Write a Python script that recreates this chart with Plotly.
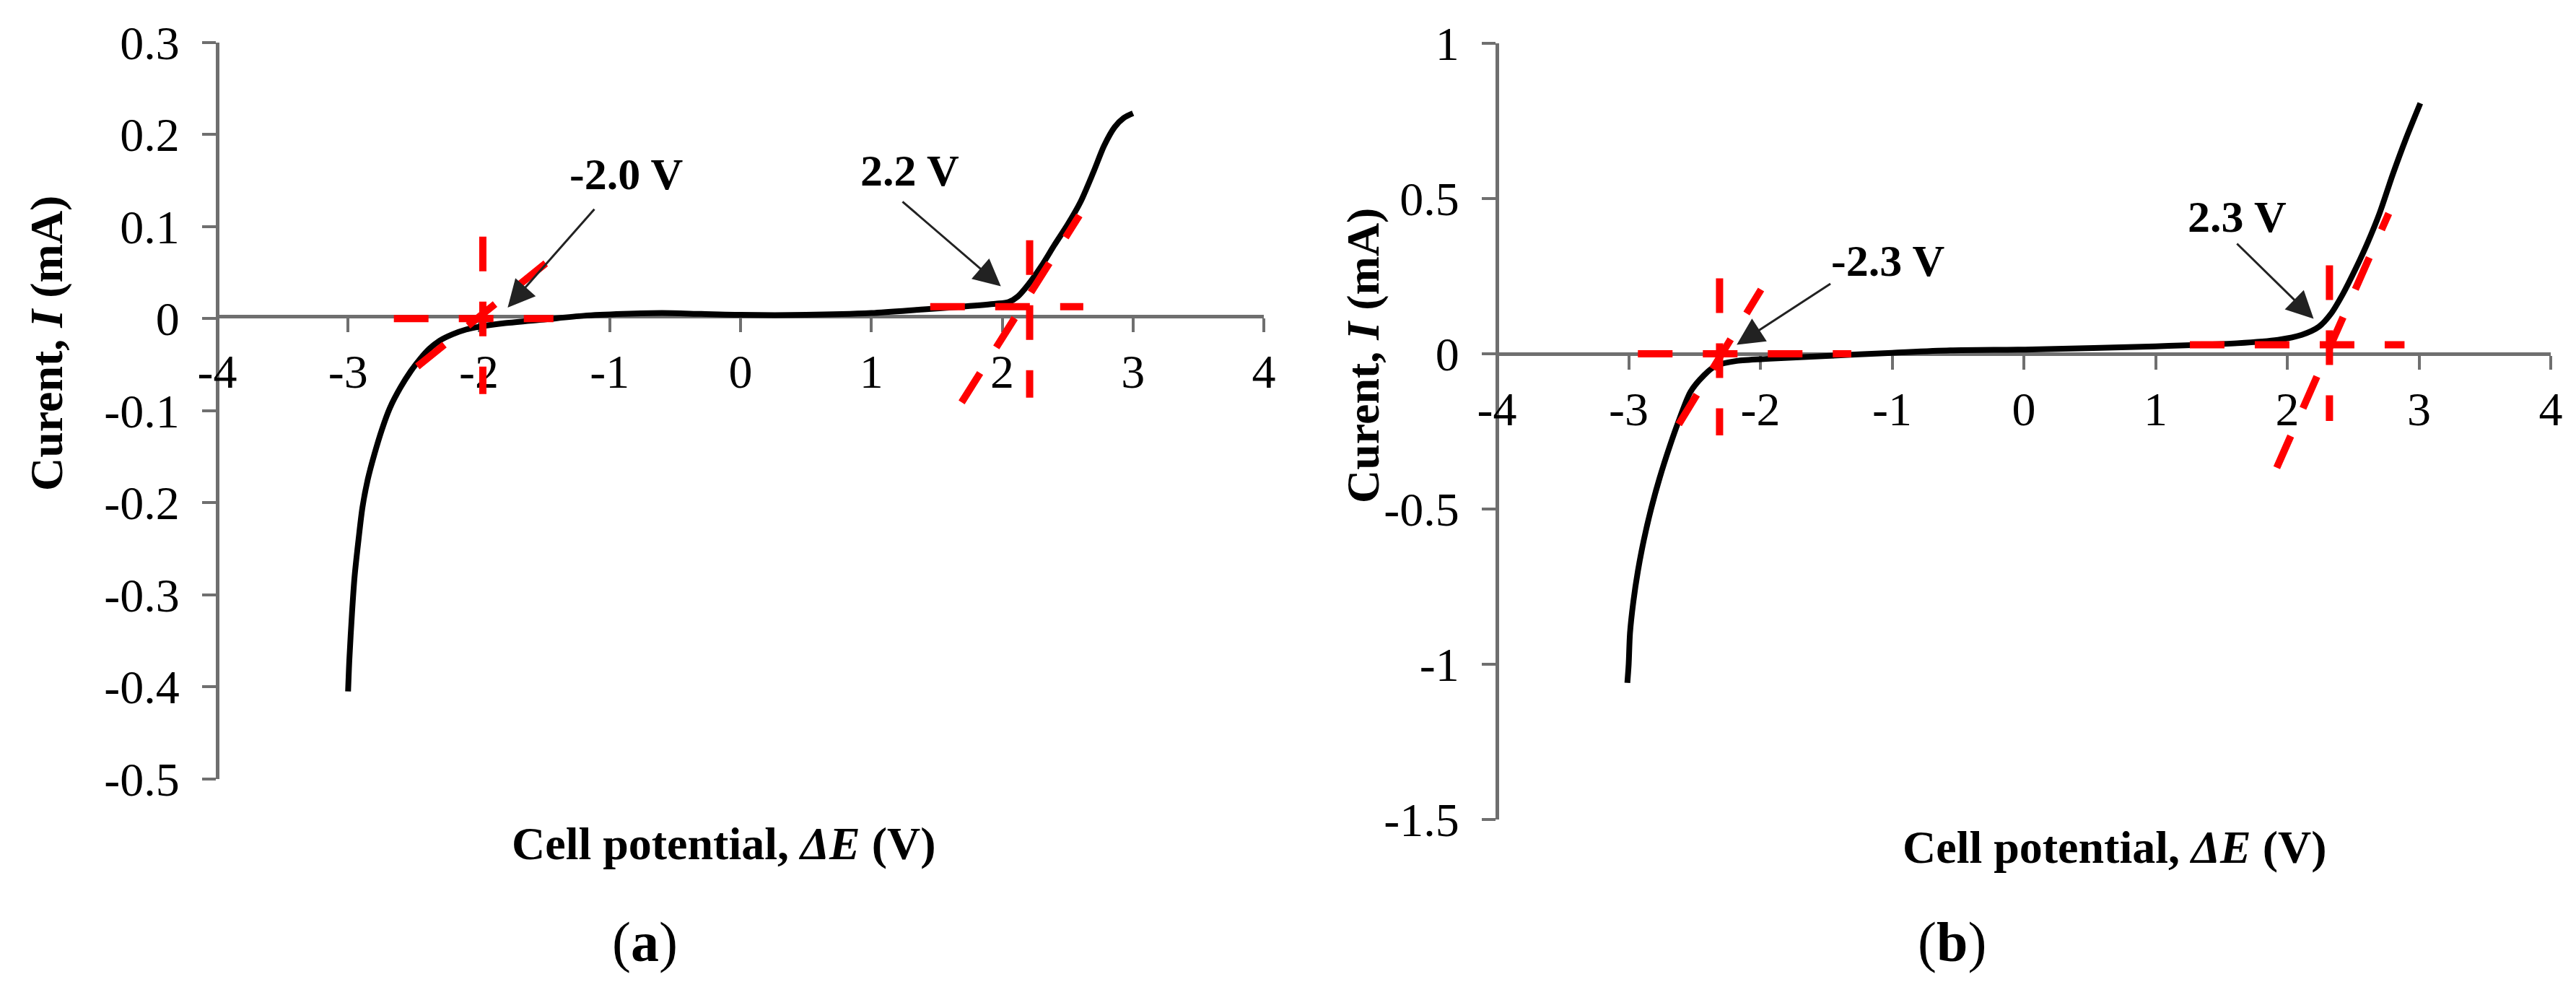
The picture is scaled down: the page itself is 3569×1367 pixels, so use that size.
import plotly.graph_objects as go

W, H = 3569, 1367
SERIF = "Liberation Serif, Times New Roman, serif"
AXIS_GREY = "#6f6f6f"

# ── panel (a): current vs cell potential ─────────────────────
volt_a = [-3.00, -2.99, -2.97, -2.95, -2.92, -2.89, -2.85, -2.80, -2.74, -2.68,
          -2.60, -2.52, -2.45, -2.38, -2.30, -2.20, -2.10, -2.00, -1.80, -1.50,
          -1.20, -0.90, -0.60, -0.30, 0.00, 0.50, 1.00, 1.40, 1.70, 1.95,
          2.05, 2.12, 2.20, 2.30, 2.40, 2.50, 2.60, 2.70, 2.78, 2.86, 2.93, 3.00]
curr_a = [-0.405, -0.370, -0.320, -0.280, -0.240, -0.205, -0.175, -0.148, -0.120, -0.097,
          -0.075, -0.057, -0.044, -0.033, -0.024, -0.017, -0.012, -0.009, -0.005, -0.001,
          0.003, 0.005, 0.006, 0.005, 0.004, 0.004, 0.006, 0.010, 0.013, 0.016,
          0.018, 0.024, 0.037, 0.057, 0.080, 0.102, 0.127, 0.160, 0.188, 0.208, 0.218, 0.223]

# red tangent construction lines (start/end points)
tan_a_x = [[-2.65, -1.43], [-1.97, -1.97], [-2.47, -1.34],
           [1.45, 2.62], [2.21, 2.21], [1.69, 2.59]]
tan_a_y = [[0.0, 0.0], [0.089, -0.082], [-0.052, 0.077],
           [0.013, 0.013], [0.085, -0.086], [-0.091, 0.112]]

labels_a = ["-2.0 V", "2.2 V"]
label_pos_a = [(-0.87, 0.157), (1.295, 0.161)]
arrow_tail_a = [(-1.11, 0.120), (1.23, 0.128)]
arrow_head_a = [(-1.78, 0.012), (1.99, 0.035)]

# ── panel (b) ────────────────────────────────────────────────
volt_b = [-3.01, -3.00, -2.99, -2.965, -2.93, -2.885, -2.83, -2.765, -2.69, -2.62,
          -2.53, -2.43, -2.34, -2.18, -1.93, -1.50, -1.00, -0.56,
          0.06, 1.00, 1.62, 1.93, 2.11, 2.24, 2.33, 2.42, 2.52, 2.61,
          2.70, 2.80, 2.90, 3.01]
curr_b = [-1.060, -1.000, -0.900, -0.800, -0.700, -0.600, -0.500, -0.400, -0.300, -0.216,
          -0.122, -0.070, -0.039, -0.023, -0.016, -0.007, 0.003, 0.011,
          0.014, 0.024, 0.034, 0.045, 0.061, 0.087, 0.128, 0.191, 0.275, 0.358,
          0.452, 0.577, 0.692, 0.807]

tan_b_x = [[-2.93, -1.31], [-2.31, -2.31], [-2.62, -1.995],
           [1.26, 2.89], [2.32, 2.32], [1.92, 2.77]]
tan_b_y = [[0.0, 0.0], [0.243, -0.263], [-0.227, 0.207],
           [0.029, 0.029], [0.285, -0.216], [-0.367, 0.452]]

labels_b = ["-2.3 V", "2.3 V"]
label_pos_b = [(-1.03, 0.300), (1.62, 0.443)]
arrow_tail_b = [(-1.46, 0.228), (1.61, 0.358)]
arrow_head_b = [(-2.18, 0.029), (2.20, 0.113)]

# ── ticks ────────────────────────────────────────────────────
x_ticks = [-4, -3, -2, -1, 0, 1, 2, 3, 4]
y_ticks_a = [-0.5, -0.4, -0.3, -0.2, -0.1, 0, 0.1, 0.2, 0.3]
y_ticks_b = [-1.5, -1, -0.5, 0, 0.5, 1]


def tick_text(vals):
    return [f"{v:g}" for v in vals]


fig = go.Figure()

panels = [
    ("x", "y", volt_a, curr_a, tan_a_x, tan_a_y),
    ("x2", "y2", volt_b, curr_b, tan_b_x, tan_b_y),
]
for xr, yr, vx, iy, tx, ty in panels:
    fig.add_trace(go.Scatter(x=vx, y=iy, mode="lines", xaxis=xr, yaxis=yr,
                             line=dict(color="black", width=8, shape="spline", smoothing=0.8),
                             showlegend=False, hoverinfo="skip"))
    for sx, sy in zip(tx, ty):
        fig.add_trace(go.Scatter(x=sx, y=sy, mode="lines", xaxis=xr, yaxis=yr,
                                 line=dict(color="#ff0000", width=10, dash="48px,42px"),
                                 showlegend=False, hoverinfo="skip"))

# ── annotations: voltage labels + arrows ─────────────────────
ann = []
for xr, yr, labs, pos, tails, heads in [
    ("x", "y", labels_a, label_pos_a, arrow_tail_a, arrow_head_a),
    ("x2", "y2", labels_b, label_pos_b, arrow_tail_b, arrow_head_b),
]:
    for lab, (lx, ly), (ax_, ay_), (hx, hy) in zip(labs, pos, tails, heads):
        ann.append(dict(x=lx, y=ly, xref=xr, yref=yr, text=f"<b>{lab}</b>",
                        xanchor="center", yanchor="middle", showarrow=False,
                        font=dict(family=SERIF, size=62, color="black")))
        ann.append(dict(x=hx, y=hy, ax=ax_, ay=ay_, xref=xr, yref=yr,
                        axref=xr, ayref=yr, text="", showarrow=True,
                        arrowhead=2, arrowsize=2.5, arrowwidth=3, arrowcolor="#222222"))

title_font = dict(family=SERIF, size=64, color="black")
for cx, cy in [(56, 468), (1880, 485)]:
    ann.append(dict(x=cx / W, y=1 - cy / H, xref="paper", yref="paper",
                    xanchor="center", yanchor="middle",
                    text="<b>Curent, <i>I</i> (mA)</b>", textangle=-90,
                    showarrow=False, font=title_font))
for cx, cy in [(995, 1160), (2922, 1165)]:
    ann.append(dict(x=cx / W, y=1 - cy / H, xref="paper", yref="paper",
                    xanchor="center", yanchor="middle",
                    text="<b>Cell potential, <i>ΔE</i> (V)</b>",
                    showarrow=False, font=title_font))
for cx, lab in [(885, "a"), (2696, "b")]:
    ann.append(dict(x=cx / W, y=1 - 1296 / H, xref="paper", yref="paper",
                    xanchor="center", yanchor="middle",
                    text=f"(<b>{lab}</b>)", showarrow=False,
                    font=dict(family=SERIF, size=78, color="black")))

tick_font = dict(family=SERIF, size=66, color="black")
common = dict(showgrid=False, zeroline=False, showline=True, linecolor=AXIS_GREY,
              linewidth=5, ticks="outside", tickcolor=AXIS_GREY, tickwidth=4,
              ticklen=19, tickfont=tick_font, layer="below traces", automargin=False)

fig.update_layout(
    width=W, height=H,
    margin=dict(l=0, r=0, t=0, b=0, autoexpand=False),
    paper_bgcolor="white", plot_bgcolor="white",
    xaxis=dict(domain=[293 / W, 1743 / W], range=[-4, 4], anchor="free",
               position=1 - 429.6 / H, tickvals=x_ticks, ticktext=tick_text(x_ticks),
               ticklabelstandoff=-2, **common),
    yaxis=dict(domain=[1 - 1070.7 / H, 1 - 50.7 / H], range=[-0.5, 0.3], anchor="free",
               position=293 / W, tickvals=y_ticks_a, ticktext=tick_text(y_ticks_a),
               ticklabelstandoff=18, **common),
    xaxis2=dict(domain=[2066 / W, 3526 / W], range=[-4, 4], anchor="free",
                position=1 - 482 / H, tickvals=x_ticks, ticktext=tick_text(x_ticks),
                ticklabelstandoff=-2, **common),
    yaxis2=dict(domain=[1 - 1127 / H, 1 - 52 / H], range=[-1.5, 1], anchor="free",
                position=2066 / W, tickvals=y_ticks_b, ticktext=tick_text(y_ticks_b),
                ticklabelstandoff=18, **common),
    annotations=ann,
)

fig.write_html("out.html")
